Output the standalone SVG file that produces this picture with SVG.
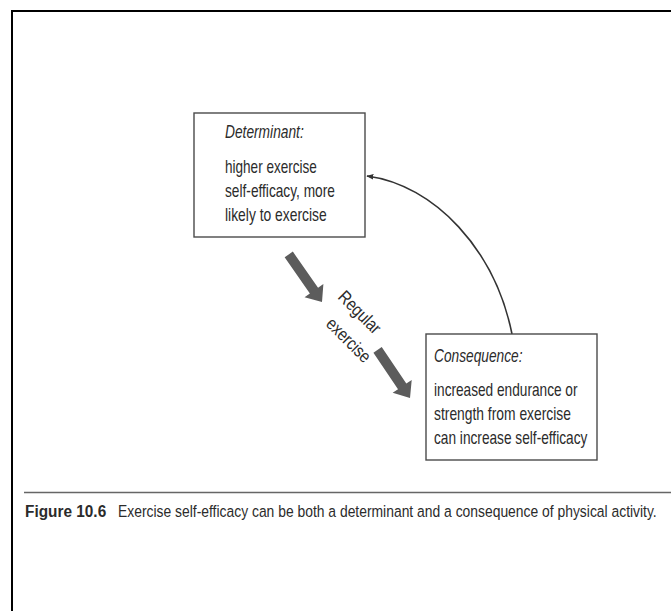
<svg xmlns="http://www.w3.org/2000/svg" width="671" height="611" viewBox="0 0 671 611">
  <defs>
    <style>
      .frame { fill: none; stroke: #000; stroke-width: 2; }
      .box { fill: #fff; stroke: #4a4a4a; stroke-width: 1.4; }
      .txt { font-family: "Liberation Sans", Arial, sans-serif; font-size: 18px; fill: #2b2b2b; }
      .head { font-style: italic; }
      .cap { font-family: "Liberation Sans", Arial, sans-serif; font-size: 16.5px; fill: #2b2b2b; }
      .capb { font-weight: bold; }
      .block { fill: #5c5c5c; }
      .curve { fill: none; stroke: #333; stroke-width: 1.6; }
    </style>
    <marker id="tip" viewBox="0 0 10 10" refX="9" refY="5" markerWidth="7" markerHeight="7" orient="auto-start-reverse" markerUnits="userSpaceOnUse">
      <path d="M0,1 L10,5 L0,9 Z" fill="#333"/>
    </marker>
    <!-- block arrow drawn along +x, tip at the origin -->
    <path id="blockArrow" d="M-58,-5 L-14,-5 L-14,-11.5 L0,0 L-14,11.5 L-14,5 L-58,5 Z"/>
  </defs>

  <rect width="671" height="611" fill="#fff"/>

  <!-- page frame: top and left edges only -->
  <path class="frame" d="M12,611 L12,11 L671,11"/>

  <!-- connectors; condensed type is a horizontally scaled sans -->
  <g id="connectors">
    <use href="#blockArrow" class="block" transform="translate(322,302) rotate(55)"/>
    <use href="#blockArrow" class="block" transform="translate(410,398) rotate(56)"/>
    <path class="curve" d="M512,334 C495,250 435,185 367,176" marker-end="url(#tip)"/>
    <text class="txt" transform="translate(337,298) rotate(45) scale(0.82,1)" textLength="64" lengthAdjust="spacingAndGlyphs">Regular</text>
    <text class="txt" transform="translate(325,325) rotate(45) scale(0.82,1)" textLength="67" lengthAdjust="spacingAndGlyphs">exercise</text>
  </g>

  <g id="determinant">
    <rect class="box" x="194" y="113" width="171" height="124"/>
    <text class="txt head" transform="translate(225,138) scale(0.82,1)" textLength="96" lengthAdjust="spacingAndGlyphs">Determinant:</text>
    <text class="txt" transform="translate(225,173) scale(0.82,1)" textLength="112" lengthAdjust="spacingAndGlyphs">higher exercise</text>
    <text class="txt" transform="translate(225,197) scale(0.82,1)" textLength="134" lengthAdjust="spacingAndGlyphs">self-efficacy, more</text>
    <text class="txt" transform="translate(225,221) scale(0.82,1)" textLength="124" lengthAdjust="spacingAndGlyphs">likely to exercise</text>
  </g>

  <g id="consequence">
    <rect class="box" x="426" y="334" width="171" height="126"/>
    <text class="txt head" transform="translate(434,362) scale(0.82,1)" textLength="108" lengthAdjust="spacingAndGlyphs">Consequence:</text>
    <text class="txt" transform="translate(434,396) scale(0.82,1)" textLength="175" lengthAdjust="spacingAndGlyphs">increased endurance or</text>
    <text class="txt" transform="translate(434,420) scale(0.82,1)" textLength="167" lengthAdjust="spacingAndGlyphs">strength from exercise</text>
    <text class="txt" transform="translate(434,444) scale(0.82,1)" textLength="187" lengthAdjust="spacingAndGlyphs">can increase self-efficacy</text>
  </g>

  <!-- caption -->
  <g id="caption">
    <line x1="24" y1="492.5" x2="671" y2="492.5" stroke="#666" stroke-width="1.5"/>
    <text class="cap capb" transform="translate(25,517) scale(0.82,1)" textLength="99" lengthAdjust="spacingAndGlyphs">Figure 10.6</text>
    <text class="cap" transform="translate(118,517) scale(0.82,1)" textLength="657" lengthAdjust="spacingAndGlyphs">Exercise self-efficacy can be both a determinant and a consequence of physical activity.</text>
  </g>
</svg>
